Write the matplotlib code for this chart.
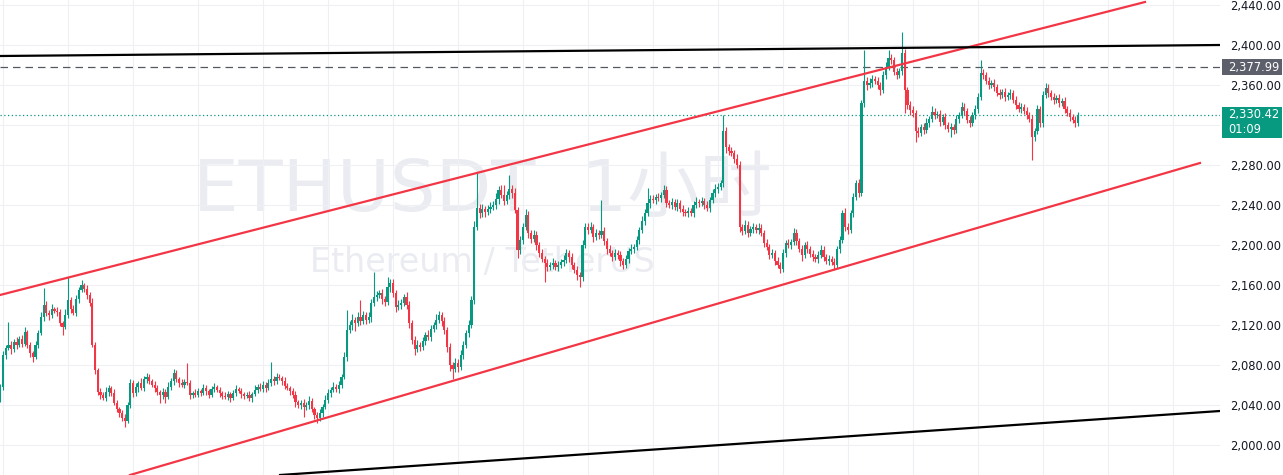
import numpy as np
import matplotlib
matplotlib.use("Agg")
import matplotlib.pyplot as plt
from matplotlib.patches import Rectangle
from matplotlib.transforms import blended_transform_factory

# ETHUSDT 1h candles, one inner list per day (24 bars)
first_open = 2045
closes_by_day = [
    [2058],
    [2090, 2097, 2100, 2096, 2103, 2100, 2106, 2101, 2113, 2100, 2092, 2088,
     2100, 2112, 2128, 2140, 2132, 2130, 2136, 2134, 2133, 2122, 2118, 2130],
    [2145, 2136, 2132, 2146, 2155, 2160, 2156, 2150, 2142, 2100, 2075, 2053,
     2050, 2047, 2053, 2057, 2052, 2042, 2036, 2032, 2027, 2024, 2040, 2062],
    [2052, 2058, 2062, 2057, 2066, 2068, 2064, 2060, 2057, 2053, 2050, 2053,
     2048, 2058, 2064, 2072, 2066, 2062, 2060, 2063, 2062, 2050, 2052, 2050],
    [2054, 2052, 2057, 2054, 2050, 2056, 2058, 2055, 2052, 2049, 2048, 2051,
     2047, 2052, 2056, 2054, 2051, 2049, 2050, 2047, 2051, 2055, 2058, 2056],
    [2060, 2057, 2062, 2066, 2064, 2068, 2067, 2064, 2059, 2057, 2054, 2050,
     2043, 2040, 2042, 2038, 2040, 2044, 2036, 2030, 2027, 2032, 2038, 2045],
    [2052, 2055, 2058, 2056, 2060, 2068, 2088, 2115, 2120, 2125, 2122, 2128,
     2124, 2130, 2125, 2128, 2142, 2148, 2150, 2152, 2146, 2143, 2158, 2162],
    [2152, 2138, 2140, 2142, 2148, 2140, 2122, 2105, 2096, 2100, 2098, 2104,
     2110, 2108, 2116, 2120, 2125, 2130, 2124, 2115, 2098, 2080, 2076, 2082],
    [2078, 2090, 2100, 2112, 2120, 2145, 2218, 2237, 2232, 2236, 2233, 2236,
     2238, 2240, 2246, 2255, 2250, 2244, 2250, 2256, 2252, 2235, 2195, 2205],
    [2218, 2230, 2212, 2206, 2210, 2200, 2192, 2186, 2182, 2178, 2180, 2182,
     2178, 2180, 2183, 2185, 2192, 2188, 2180, 2175, 2170, 2168, 2200, 2218],
    [2215, 2218, 2208, 2212, 2210, 2214, 2204, 2196, 2192, 2188, 2192, 2190,
     2184, 2180, 2186, 2194, 2196, 2198, 2205, 2215, 2224, 2232, 2242, 2246],
    [2245, 2248, 2247, 2250, 2255, 2242, 2240, 2243, 2238, 2242, 2236, 2233,
     2232, 2234, 2232, 2240, 2243, 2242, 2244, 2240, 2237, 2245, 2252, 2256],
    [2258, 2262, 2314, 2298, 2294, 2292, 2286, 2280, 2218, 2214, 2220, 2212,
     2216, 2218, 2215, 2217, 2212, 2202, 2198, 2190, 2192, 2184, 2180, 2176],
    [2192, 2202, 2200, 2203, 2212, 2204, 2196, 2190, 2200, 2196, 2191, 2188,
     2186, 2190, 2195, 2188, 2184, 2186, 2183, 2180, 2196, 2205, 2232, 2218],
    [2215, 2232, 2248, 2262, 2252, 2342, 2364, 2360, 2362, 2366, 2364, 2360,
     2355, 2370, 2378, 2387, 2385, 2373, 2370, 2374, 2392, 2355, 2340, 2335],
    [2332, 2314, 2312, 2318, 2315, 2322, 2326, 2333, 2330, 2331, 2323, 2328,
     2320, 2316, 2318, 2315, 2326, 2330, 2338, 2334, 2325, 2322, 2330, 2336],
    [2348, 2372, 2370, 2364, 2360, 2362, 2358, 2352, 2350, 2353, 2348, 2350,
     2352, 2345, 2340, 2336, 2338, 2334, 2330, 2326, 2308, 2314, 2336, 2322],
    [2350, 2357, 2352, 2348, 2345, 2347, 2342, 2344, 2336, 2332, 2328, 2325,
     2322, 2330],
]
# wick length above / below the body
wick_up_by_day = [
    [3],
    [4, 3, 23, 4, 3, 5, 3, 4, 5, 2, 3, 2, 4, 3, 5, 17, 4, 3, 5, 2, 4, 3, 2, 6],
    [23, 3, 4, 4, 3, 5, 2, 4, 3, 5, 3, 2, 4, 3, 5, 3, 2, 4, 3, 2, 3, 4, 3, 4],
    [3, 4, 2, 5, 3, 4, 3, 2, 4, 3, 2, 4, 3, 5, 3, 4, 3, 2, 4, 3, 19, 3, 2, 4],
    [3, 2, 4, 3, 2, 3, 4, 2, 3, 2, 4, 3, 2, 3, 4, 2, 3, 2, 3, 4, 2, 5, 3, 4],
    [4, 3, 4, 17, 3, 4, 3, 2, 4, 3, 2, 3, 4, 2, 3, 4, 3, 5, 3, 2, 3, 4, 3, 5],
    [4, 3, 5, 3, 4, 3, 5, 20, 4, 6, 3, 5, 17, 4, 3, 5, 4, 25, 4, 3, 4, 3, 10, 4],
    [4, 3, 5, 4, 3, 5, 4, 3, 4, 5, 3, 4, 3, 5, 4, 3, 6, 4, 3, 4, 3, 4, 3, 5],
    [4, 5, 4, 3, 5, 4, 6, 36, 4, 5, 3, 4, 5, 4, 6, 4, 5, 10, 4, 14, 4, 5, 3, 4],
    [4, 6, 4, 3, 5, 4, 3, 4, 3, 4, 3, 5, 3, 4, 3, 5, 4, 3, 4, 3, 4, 3, 5, 4],
    [4, 5, 3, 4, 3, 31, 4, 3, 4, 3, 4, 3, 4, 3, 4, 3, 5, 3, 4, 3, 5, 4, 15, 4],
    [4, 3, 4, 3, 5, 4, 3, 4, 3, 4, 3, 4, 3, 4, 3, 4, 5, 3, 4, 3, 4, 3, 4, 5],
    [4, 3, 16, 4, 3, 4, 3, 5, 4, 3, 5, 4, 3, 4, 3, 5, 4, 3, 4, 3, 4, 3, 4, 3],
    [4, 3, 4, 3, 5, 4, 3, 4, 3, 4, 3, 4, 3, 4, 5, 4, 3, 4, 3, 4, 3, 4, 3, 5],
    [4, 3, 4, 3, 4, 3, 31, 4, 5, 4, 3, 4, 3, 4, 5, 8, 4, 3, 4, 3, 21, 4, 3, 4],
    [4, 3, 4, 3, 4, 5, 3, 6, 4, 3, 4, 3, 4, 3, 4, 3, 4, 3, 5, 4, 3, 4, 3, 4],
    [4, 13, 4, 3, 4, 3, 4, 3, 4, 3, 4, 3, 4, 3, 4, 3, 4, 3, 4, 3, 4, 3, 4, 3],
    [4, 5, 4, 3, 4, 3, 4, 3, 4, 3, 4, 3, 4, 3],
]
wick_dn_by_day = [
    [2],
    [3, 4, 2, 5, 3, 4, 2, 3, 2, 3, 4, 5, 2, 3, 2, 4, 3, 5, 3, 2, 4, 3, 8, 2],
    [3, 4, 2, 3, 4, 2, 3, 4, 3, 2, 4, 3, 4, 2, 3, 4, 3, 2, 3, 4, 3, 6, 2, 3],
    [4, 3, 5, 2, 3, 4, 3, 2, 4, 3, 8, 4, 6, 2, 3, 4, 3, 4, 2, 3, 2, 4, 3, 2],
    [2, 3, 2, 4, 3, 2, 3, 2, 4, 3, 2, 3, 4, 2, 3, 2, 4, 3, 2, 3, 4, 2, 3, 2],
    [3, 4, 2, 3, 4, 3, 2, 4, 3, 2, 4, 3, 5, 3, 4, 10, 3, 4, 3, 4, 5, 3, 4, 2],
    [3, 4, 2, 3, 4, 3, 2, 4, 3, 5, 8, 3, 4, 3, 4, 3, 5, 3, 4, 3, 5, 4, 3, 5],
    [4, 5, 3, 4, 3, 4, 5, 4, 6, 3, 4, 3, 4, 3, 4, 3, 4, 3, 5, 4, 5, 6, 10, 3],
    [5, 3, 4, 3, 4, 3, 4, 3, 5, 4, 5, 3, 4, 3, 4, 5, 3, 4, 3, 4, 5, 3, 8, 4],
    [4, 3, 5, 4, 3, 5, 4, 3, 19, 4, 3, 4, 3, 4, 3, 4, 3, 5, 4, 3, 5, 10, 4, 3],
    [4, 3, 5, 3, 4, 3, 4, 5, 3, 4, 3, 4, 5, 4, 3, 4, 3, 4, 3, 4, 3, 4, 3, 5],
    [3, 4, 3, 4, 3, 4, 3, 4, 3, 4, 3, 4, 3, 4, 3, 4, 3, 4, 3, 4, 3, 4, 3, 4],
    [4, 3, 4, 6, 4, 3, 4, 3, 5, 4, 3, 4, 3, 4, 3, 4, 3, 4, 3, 4, 3, 4, 3, 4],
    [3, 4, 3, 4, 3, 4, 3, 6, 3, 4, 3, 4, 3, 4, 3, 4, 3, 4, 3, 4, 3, 4, 3, 4],
    [4, 3, 4, 3, 4, 3, 4, 5, 3, 4, 3, 4, 5, 3, 4, 3, 4, 3, 4, 3, 4, 23, 4, 5],
    [4, 11, 4, 3, 4, 3, 4, 3, 4, 3, 4, 3, 4, 3, 8, 4, 3, 4, 3, 4, 3, 4, 3, 4],
    [4, 3, 4, 3, 4, 3, 4, 3, 4, 3, 4, 3, 4, 3, 4, 3, 4, 3, 4, 3, 23, 4, 3, 4],
    [4, 3, 4, 3, 4, 3, 4, 3, 4, 3, 4, 3, 4, 3],
]

# drawn lines: (bar index, price) endpoints
upper_channel = ([-0.1, 422.7], [2150, 2443])
lower_channel = ([47.9, 443.0], [1970, 2282])
resistance = ([-0.1, 450.4], [2389, 2400])
support = ([103.3, 450.4], [1970, 2034])
marked_price = 2377.99
last_price = 2330.42
countdown = "01:09"
price_ticks = [2000, 2040, 2080, 2120, 2160, 2200, 2240, 2280, 2320, 2360, 2400, 2440]
hidden_tick = 2320  # covered by the last-price tag

closes = np.array(sum(closes_by_day, []), float)
up = np.array(sum(wick_up_by_day, []), float)
dn = np.array(sum(wick_dn_by_day, []), float)
n = min(len(closes), len(up), len(dn))
closes, up, dn = closes[:n], up[:n], dn[:n]
opens = np.concatenate([[first_open], closes[:-1]])
highs = np.maximum(opens, closes) + up
lows = np.minimum(opens, closes) - dn
x = np.arange(n)

GREEN = "#089981"
RED = "#f23645"

W, H = 1283, 475
fig = plt.figure(figsize=(W / 100, H / 100), dpi=100)
fig.patch.set_facecolor("white")
ax = fig.add_axes([0, 0, 1220 / W, 1])
ax.set_xlim(-0.11, 450.4)
ax.set_ylim(1970, 2445)
for s in ax.spines.values():
    s.set_visible(False)

# grid
ax.set_xticks(np.arange(1, 451, 24))
ax.set_yticks(price_ticks)
ax.grid(True, color="#eef0f4", linewidth=0.8, zorder=0)
ax.set_axisbelow(True)
ax.tick_params(axis="x", length=0, labelbottom=False)
ax.yaxis.tick_right()
ax.tick_params(axis="y", length=0, pad=7, labelsize=8.3, labelcolor="#131722")
ax.set_yticklabels(["" if p == hidden_tick else f"{p:,.2f}" for p in price_ticks])

# watermark
ax.text(178, 2254, "ETHUSDT  1小时", ha="center", va="center", fontsize=52,
        color="#eaecf1", family=["DejaVu Sans", "Noto Sans CJK SC"], zorder=0.5)
ax.text(178, 2182, "Ethereum / TetherUS", ha="center", va="center", fontsize=24,
        color="#eaecf1", family=["DejaVu Sans"], zorder=0.5)

# candles
col = np.where(closes >= opens, GREEN, RED)
ax.vlines(x, lows, highs, colors=col, linewidth=0.8, zorder=2)
body = np.maximum(np.abs(closes - opens), 0.8)
ax.bar(x, body, bottom=np.minimum(opens, closes), width=0.8, color=col,
       linewidth=0, zorder=3)

# drawings
ax.plot(*upper_channel, color=RED, linewidth=1.6, zorder=4)
ax.plot(*lower_channel, color=RED, linewidth=1.6, zorder=4)
ax.plot(*resistance, color="black", linewidth=1.6, zorder=4)
ax.plot(*support, color="black", linewidth=1.6, zorder=4)
ax.axhline(marked_price, color="#555861", linewidth=0.9, linestyle=(0, (6, 4)), zorder=1)
ax.axhline(last_price, color=GREEN, linewidth=0.9, linestyle=(0, (1, 2)), zorder=1)

# price labels on the scale
tr = blended_transform_factory(fig.transFigure, ax.transData)
x0, bw = 1222 / W, 60 / W
fig.add_artist(Rectangle((x0, marked_price - 8), bw, 16, transform=tr,
                         facecolor="#5d606b", edgecolor="none", zorder=5))
fig.text(1228 / W, marked_price, f"{marked_price:,.2f}", transform=tr, color="white",
         fontsize=8.3, va="center", ha="left", zorder=6)
fig.add_artist(Rectangle((x0, last_price - 23), bw, 31, transform=tr,
                         facecolor=GREEN, edgecolor="none", zorder=5))
fig.text(1228 / W, last_price, f"{last_price:,.2f}", transform=tr, color="white",
         fontsize=8.3, va="center", ha="left", zorder=6)
fig.text(1228 / W, last_price - 15, countdown, transform=tr, color="white",
         fontsize=8.3, va="center", ha="left", zorder=6)

fig.savefig("out.png", dpi=100)
